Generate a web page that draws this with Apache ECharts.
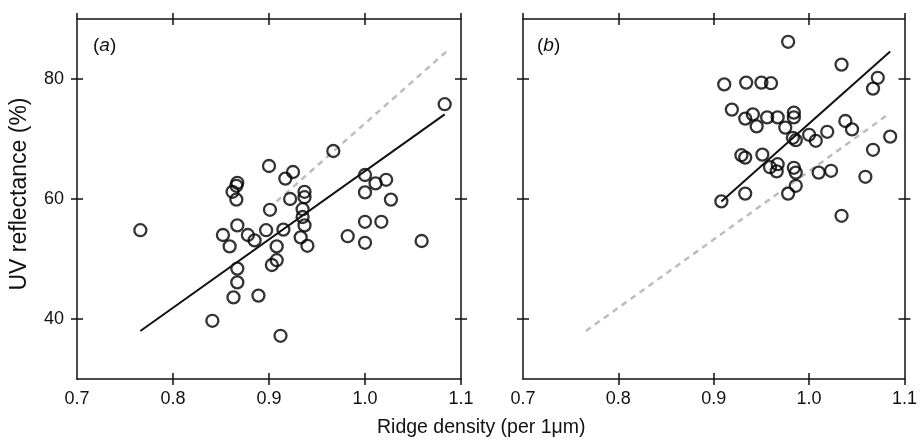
<!DOCTYPE html>
<html>
<head>
<meta charset="utf-8">
<script src="https://cdn.jsdelivr.net/npm/echarts@6/dist/echarts.min.js"></script>
<style>
  html, body { margin: 0; padding: 0; background: #fff; }
  #chart { width: 920px; height: 441px; }
</style>
</head>
<body>
<div id="chart"></div>
<script>
// panel (a): ridge density vs UV reflectance
var densityA = [0.766, 0.841, 0.852, 0.859, 0.862, 0.867, 0.866, 0.866, 0.867, 0.878,
                0.885, 0.897, 0.900, 0.901, 0.867, 0.867, 0.863, 0.889, 0.912, 0.903,
                0.908, 0.908, 0.915, 0.917, 0.925, 0.922, 0.937, 0.937, 0.935, 0.935,
                0.937, 0.933, 0.940, 0.967, 0.982, 1.000, 1.000, 1.000, 1.000, 1.011,
                1.017, 1.022, 1.027, 1.059, 1.083];
var reflectA = [54.8, 39.7, 54.0, 52.1, 61.2, 62.7, 62.2, 59.9, 55.6, 54.0,
                53.1, 54.8, 65.5, 58.2, 48.4, 46.1, 43.6, 43.9, 37.2, 49.0,
                49.8, 52.1, 54.9, 63.4, 64.5, 60.0, 61.2, 60.3, 58.3, 57.0,
                55.6, 53.6, 52.2, 68.0, 53.8, 64.0, 61.1, 56.2, 52.7, 62.6,
                56.2, 63.2, 59.9, 53.0, 75.8];

// panel (b)
var densityB = [0.978, 1.034, 0.911, 0.934, 0.950, 0.960, 1.072, 1.067, 0.919, 0.941,
                0.933, 0.945, 0.956, 0.967, 0.984, 0.984, 0.975, 0.983, 0.986, 1.000,
                1.007, 1.019, 1.038, 1.045, 1.085, 1.067, 0.929, 0.933, 0.951, 0.959,
                0.967, 0.966, 0.984, 0.986, 0.986, 0.978, 0.933, 0.908, 1.010, 1.023,
                1.059, 1.034];
var reflectB = [86.2, 82.4, 79.1, 79.4, 79.4, 79.3, 80.2, 78.4, 74.9, 74.1,
                73.4, 72.1, 73.6, 73.6, 74.4, 73.6, 71.9, 70.2, 69.8, 70.7,
                69.7, 71.2, 73.0, 71.6, 70.4, 68.2, 67.3, 66.9, 67.4, 65.3,
                65.8, 64.6, 65.2, 64.4, 62.2, 60.9, 60.9, 59.6, 64.4, 64.7,
                63.7, 57.2];

// fitted lines (end points)
var fitA = [[0.766, 38.0], [1.083, 74.1]];
var fitB = [[0.908, 59.6], [1.085, 84.6]];

var xTicks = [0.7, 0.8, 0.9, 1.0, 1.1];
var yTicks = [40, 60, 80];

function zip(xs, ys) {
    return xs.map(function (x, i) { return [x, ys[i]]; });
}

var chart = echarts.init(document.getElementById('chart'));
var FONT = '"Liberation Sans", Arial, sans-serif';
var INK = '#111';

var grids = [
    { left: 77, top: 19, width: 384, height: 360 },
    { left: 523, top: 19, width: 384, height: 360 }
];

// each side gets two axes: one ticking outward, one inward -> crossing ticks
function xAxes(g) {
    var base = {
        type: 'value', gridIndex: g, min: 0.7, max: 1.1, interval: 0.1,
        splitLine: { show: false },
        axisLine: { onZero: false, lineStyle: { color: INK, width: 1.5 } }
    };
    return [
        Object.assign({}, base, {
            position: 'bottom',
            axisTick: { length: 6, lineStyle: { color: INK, width: 1.5 }, customValues: [0.8, 0.9, 1.0, 1.1] },
            axisLabel: {
                margin: 11, fontSize: 18, color: INK, fontFamily: FONT,
                customValues: xTicks,
                formatter: function (v) { return v.toFixed(1); }
            }
        }),
        Object.assign({}, base, {
            position: 'bottom',
            axisLine: { show: false },
            axisTick: { inside: true, length: 6, lineStyle: { color: INK, width: 1.5 }, customValues: [0.8, 0.9, 1.0] },
            axisLabel: { show: false }
        }),
        Object.assign({}, base, {
            position: 'top',
            axisTick: { length: 6, lineStyle: { color: INK, width: 1.5 } },
            axisLabel: { show: false }
        }),
        Object.assign({}, base, {
            position: 'top',
            axisLine: { show: false },
            axisTick: { inside: true, length: 6, lineStyle: { color: INK, width: 1.5 }, customValues: [0.8, 0.9, 1.0] },
            axisLabel: { show: false }
        })
    ];
}

function yAxes(g) {
    var base = {
        type: 'value', gridIndex: g, min: 30, max: 90,
        splitLine: { show: false },
        axisLine: { onZero: false, lineStyle: { color: INK, width: 1.5 } }
    };
    var tick = { length: 6, lineStyle: { color: INK, width: 1.5 }, customValues: yTicks };
    return [
        Object.assign({}, base, {
            position: 'left',
            axisTick: tick,
            axisLabel: {
                show: g === 0, margin: 13, fontSize: 18, color: INK, fontFamily: FONT,
                customValues: yTicks
            }
        }),
        Object.assign({}, base, {
            position: 'left',
            axisLine: { show: false },
            axisTick: Object.assign({}, tick, { inside: true }),
            axisLabel: { show: false }
        }),
        Object.assign({}, base, {
            position: 'right',
            axisTick: tick,
            axisLabel: { show: false }
        }),
        Object.assign({}, base, {
            position: 'right',
            axisLine: { show: false },
            axisTick: Object.assign({}, tick, { inside: true }),
            axisLabel: { show: false }
        })
    ];
}

function lineSeries(axis, data, dashed) {
    return {
        type: 'line', xAxisIndex: axis, yAxisIndex: axis, data: data,
        showSymbol: false, silent: true, z: dashed ? 1 : 3,
        lineStyle: dashed
            ? { color: '#bdbdbd', width: 2.5, type: [6, 5] }
            : { color: INK, width: 2 }
    };
}

function dotSeries(axis, data) {
    return {
        type: 'scatter', xAxisIndex: axis, yAxisIndex: axis, data: data,
        symbol: 'circle', symbolSize: 12, z: 2,
        itemStyle: { color: 'rgba(0,0,0,0)', borderColor: '#000', borderWidth: 2.3 },
        emphasis: { disabled: true }
    };
}

var panelLabel = {
    n: { fontSize: 19, fontFamily: FONT, color: INK, fontWeight: 'normal' },
    i: { fontSize: 19, fontFamily: FONT, color: INK, fontStyle: 'italic', fontWeight: 'normal' }
};

var option = {
    animation: false,
    backgroundColor: '#fff',
    title: [
        { text: '{n|(}{i|a}{n|)}', left: 88, top: 31, textStyle: { fontWeight: 'normal', rich: panelLabel } },
        { text: '{n|(}{i|b}{n|)}', left: 532, top: 31, textStyle: { fontWeight: 'normal', rich: panelLabel } }
    ],
    grid: grids,
    xAxis: xAxes(0).concat(xAxes(1)),
    yAxis: yAxes(0).concat(yAxes(1)),
    graphic: [
        {
            type: 'text', left: 377, top: 418,
            style: { text: 'Ridge density (per 1\u03bcm)', fontSize: 19.5, fontFamily: FONT, fill: INK }
        },
        {
            type: 'text', x: 8, y: 194, rotation: Math.PI / 2,
            style: {
                text: 'UV reflectance (%)', fontSize: 23, fontFamily: FONT, fill: INK,
                align: 'center', verticalAlign: 'top'
            }
        }
    ],
    series: [
        lineSeries(0, fitB, true),
        lineSeries(0, fitA, false),
        dotSeries(0, zip(densityA, reflectA)),
        lineSeries(4, fitA, true),
        lineSeries(4, fitB, false),
        dotSeries(4, zip(densityB, reflectB))
    ]
};

chart.setOption(option);
</script>
</body>
</html>
